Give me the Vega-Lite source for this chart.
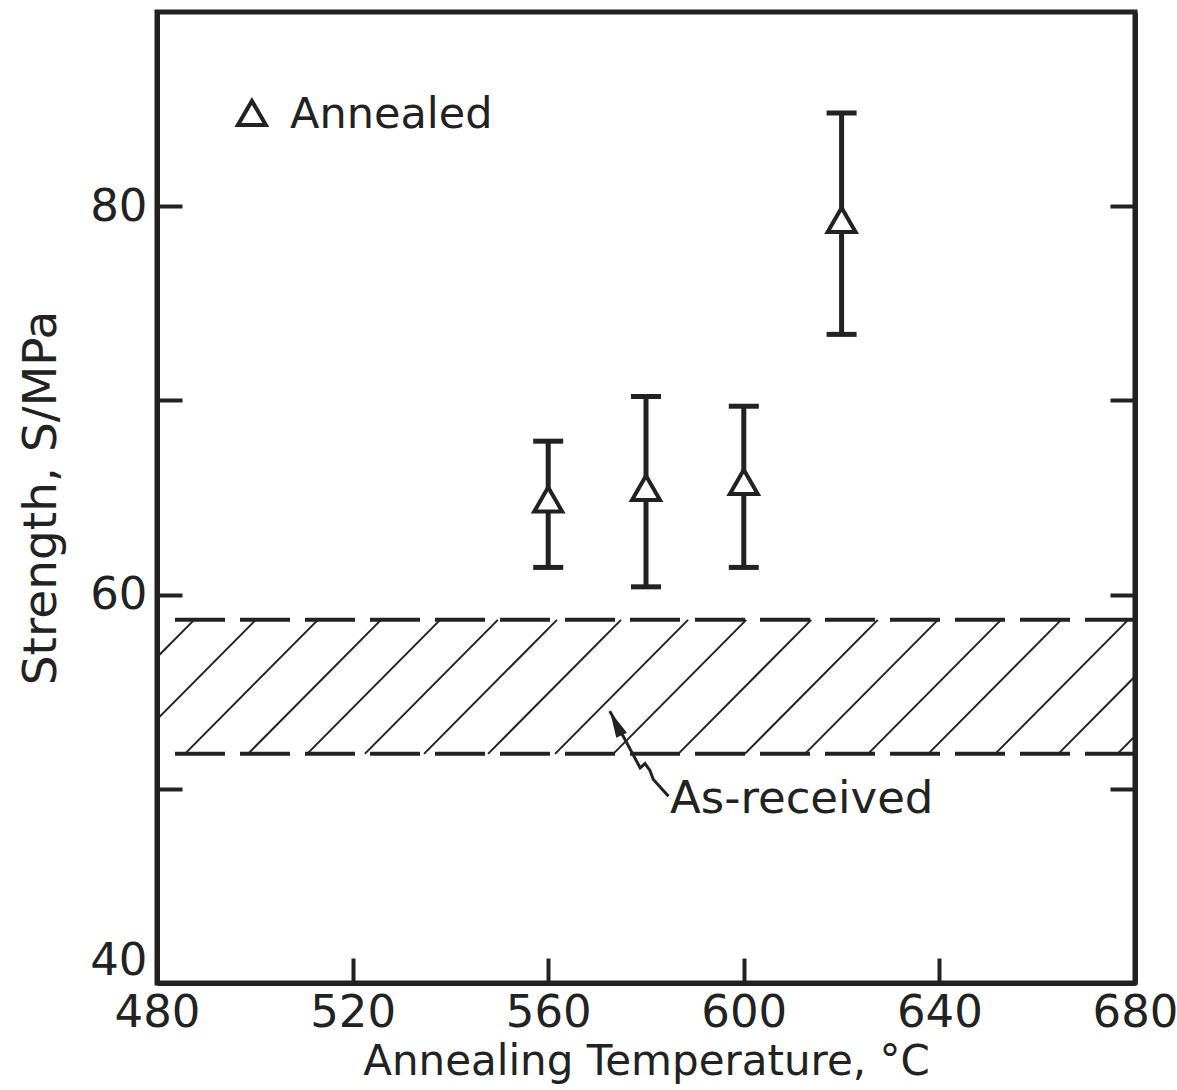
{
  "$schema": "https://vega.github.io/schema/vega-lite/v6.json",
  "width": 978,
  "height": 971,
  "autosize": {"type": "none"},
  "padding": {"left": 157, "top": 12, "right": 42, "bottom": 107},
  "background": "white",
  "config": {
    "view": {"stroke": "#222", "strokeWidth": 5},
    "font": "DejaVu Sans",
    "axis": {
      "domainColor": "#222", "domainWidth": 5,
      "tickColor": "#222", "tickWidth": 4, "tickSize": -25,
      "grid": false,
      "labelColor": "#222", "titleColor": "#222",
      "labelFont": "DejaVu Sans", "titleFont": "DejaVu Sans",
      "labelFontSize": 45, "titleFontSize": 42, "titleFontWeight": "normal"
    }
  },
  "layer": [
    {
      "data": {"values": [
        {"x0": 460.4, "x1": 487.6, "y0": 51.8, "y1": 58.7},
        {"x0": 473.0, "x1": 500.2, "y0": 51.8, "y1": 58.7},
        {"x0": 485.7, "x1": 512.9, "y0": 51.8, "y1": 58.7},
        {"x0": 498.6, "x1": 525.8, "y0": 51.8, "y1": 58.7},
        {"x0": 510.7, "x1": 537.9, "y0": 51.8, "y1": 58.7},
        {"x0": 522.5, "x1": 549.7, "y0": 51.8, "y1": 58.7},
        {"x0": 534.6, "x1": 561.8, "y0": 51.8, "y1": 58.7},
        {"x0": 547.7, "x1": 574.9, "y0": 51.8, "y1": 58.7},
        {"x0": 561.4, "x1": 588.6, "y0": 51.8, "y1": 58.7},
        {"x0": 573.3, "x1": 600.5, "y0": 51.8, "y1": 58.7},
        {"x0": 586.6, "x1": 613.8, "y0": 51.8, "y1": 58.7},
        {"x0": 600.2, "x1": 627.4, "y0": 51.8, "y1": 58.7},
        {"x0": 612.5, "x1": 639.7, "y0": 51.8, "y1": 58.7},
        {"x0": 625.4, "x1": 652.6, "y0": 51.8, "y1": 58.7},
        {"x0": 637.7, "x1": 664.9, "y0": 51.8, "y1": 58.7},
        {"x0": 651.4, "x1": 678.6, "y0": 51.8, "y1": 58.7},
        {"x0": 664.3, "x1": 691.5, "y0": 51.8, "y1": 58.7},
        {"x0": 676.4, "x1": 703.6, "y0": 51.8, "y1": 58.7}
      ]},
      "mark": {"type": "rule", "clip": true, "color": "#222", "strokeWidth": 2},
      "encoding": {
        "x": {"field": "x0", "type": "quantitative",
          "scale": {"domain": [480, 680], "nice": false, "zero": false},
          "axis": {"orient": "bottom", "values": [480, 520, 560, 600, 640, 680], "labelFlush": false,
            "title": "Annealing Temperature, °C", "labelPadding": 32, "titlePadding": 6}},
        "x2": {"field": "x1"},
        "y": {"field": "y0", "type": "quantitative",
          "scale": {"domain": [40, 90], "nice": false, "zero": false},
          "axis": {"orient": "left", "values": [40, 50, 60, 70, 80],
            "labelExpr": "datum.value % 20 == 0 ? datum.label : ''",
            "labelFlush": true, "labelPadding": 35,
            "title": "Strength, S/MPa", "titleFontSize": 47, "titlePadding": 24}},
        "y2": {"field": "y1"}
      }
    },
    {
      "data": {"values": [{"lower": 51.8, "upper": 58.7}]},
      "transform": [{"fold": ["lower", "upper"], "as": ["edge", "S"]}],
      "mark": {"type": "rule", "color": "#222", "strokeWidth": 4, "strokeDash": [50, 15]},
      "encoding": {
        "y": {"field": "S", "type": "quantitative",
          "scale": {"domain": [40, 90], "nice": false, "zero": false},
          "axis": {"orient": "right", "values": [50, 60, 70, 80], "labels": false, "title": null}}
      }
    },
    {
      "data": {"values": [
        {"T": 560, "S": 64.9, "lo": 61.4, "hi": 67.9},
        {"T": 580, "S": 65.5, "lo": 60.4, "hi": 70.2},
        {"T": 600, "S": 65.8, "lo": 61.4, "hi": 69.7},
        {"T": 620, "S": 79.3, "lo": 73.4, "hi": 84.8}
      ]},
      "layer": [
        {
          "mark": {"type": "rule", "color": "#222", "strokeWidth": 5},
          "encoding": {
            "x": {"field": "T", "type": "quantitative",
              "scale": {"domain": [480, 680], "nice": false, "zero": false},
              "axis": {"orient": "top", "values": [520, 560, 600, 640], "labels": false, "title": null}},
            "y": {"field": "lo", "type": "quantitative",
              "scale": {"domain": [40, 90], "nice": false, "zero": false}, "axis": null},
            "y2": {"field": "hi"}
          }
        },
        {
          "mark": {"type": "tick", "orient": "horizontal", "color": "#222", "opacity": 1, "size": 30, "thickness": 5},
          "encoding": {
            "x": {"field": "T", "type": "quantitative", "scale": {"domain": [480, 680], "nice": false, "zero": false}, "axis": null},
            "y": {"field": "lo", "type": "quantitative", "scale": {"domain": [40, 90], "nice": false, "zero": false}, "axis": null}
          }
        },
        {
          "mark": {"type": "tick", "orient": "horizontal", "color": "#222", "opacity": 1, "size": 30, "thickness": 5},
          "encoding": {
            "x": {"field": "T", "type": "quantitative", "scale": {"domain": [480, 680], "nice": false, "zero": false}, "axis": null},
            "y": {"field": "hi", "type": "quantitative", "scale": {"domain": [40, 90], "nice": false, "zero": false}, "axis": null}
          }
        },
        {
          "mark": {"type": "point", "shape": "triangle-up", "filled": false, "color": "#222", "fill": "white", "strokeWidth": 4, "size": 780, "opacity": 1},
          "encoding": {
            "x": {"field": "T", "type": "quantitative", "scale": {"domain": [480, 680], "nice": false, "zero": false}, "axis": null},
            "y": {"field": "S", "type": "quantitative", "scale": {"domain": [40, 90], "nice": false, "zero": false}, "axis": null}
          }
        }
      ]
    },
    {
      "data": {"values": [{"series": "Annealed", "lx": 499.4, "ly": 84.8, "tx": 507.2, "ty": 84.03}]},
      "layer": [
        {
          "mark": {"type": "point", "shape": "triangle-up", "filled": false, "color": "#222", "fill": "white", "strokeWidth": 4, "size": 780, "opacity": 1},
          "encoding": {
            "x": {"field": "lx", "type": "quantitative", "scale": {"domain": [480, 680], "nice": false, "zero": false}, "axis": null},
            "y": {"field": "ly", "type": "quantitative", "scale": {"domain": [40, 90], "nice": false, "zero": false}, "axis": null}
          }
        },
        {
          "mark": {"type": "text", "align": "left", "baseline": "alphabetic", "fontSize": 43, "font": "DejaVu Sans", "color": "#222"},
          "encoding": {
            "x": {"field": "tx", "type": "quantitative", "scale": {"domain": [480, 680], "nice": false, "zero": false}, "axis": null},
            "y": {"field": "ty", "type": "quantitative", "scale": {"domain": [40, 90], "nice": false, "zero": false}, "axis": null},
            "text": {"field": "series"}
          }
        }
      ]
    },
    {
      "data": {"values": [
        {"ax": 572.6, "ay": 54.0, "o": 0},
        {"ax": 578.8, "ay": 51.08, "o": 1},
        {"ax": 579.8, "ay": 51.3, "o": 2},
        {"ax": 580.8, "ay": 50.95, "o": 3},
        {"ax": 581.5, "ay": 50.48, "o": 4},
        {"ax": 584.6, "ay": 49.62, "o": 5}
      ]},
      "mark": {"type": "line", "color": "#222", "strokeWidth": 3},
      "encoding": {
        "x": {"field": "ax", "type": "quantitative", "scale": {"domain": [480, 680], "nice": false, "zero": false}, "axis": null},
        "y": {"field": "ay", "type": "quantitative", "scale": {"domain": [40, 90], "nice": false, "zero": false}, "axis": null},
        "order": {"field": "o", "type": "quantitative"}
      }
    },
    {
      "data": {"values": [{"hx": 573.83, "hy": 53.37}]},
      "mark": {"type": "point", "shape": "M0,-1L0.45,1L-0.45,1Z", "filled": true, "color": "#222", "size": 700, "angle": -26, "opacity": 1},
      "encoding": {
        "x": {"field": "hx", "type": "quantitative", "scale": {"domain": [480, 680], "nice": false, "zero": false}, "axis": null},
        "y": {"field": "hy", "type": "quantitative", "scale": {"domain": [40, 90], "nice": false, "zero": false}, "axis": null}
      }
    },
    {
      "data": {"values": [{"label": "As-received", "tx": 584.9, "ty": 48.77}]},
      "mark": {"type": "text", "align": "left", "baseline": "alphabetic", "fontSize": 45, "font": "DejaVu Sans", "color": "#222"},
      "encoding": {
        "x": {"field": "tx", "type": "quantitative", "scale": {"domain": [480, 680], "nice": false, "zero": false}, "axis": null},
        "y": {"field": "ty", "type": "quantitative", "scale": {"domain": [40, 90], "nice": false, "zero": false}, "axis": null},
        "text": {"field": "label"}
      }
    }
  ]
}
